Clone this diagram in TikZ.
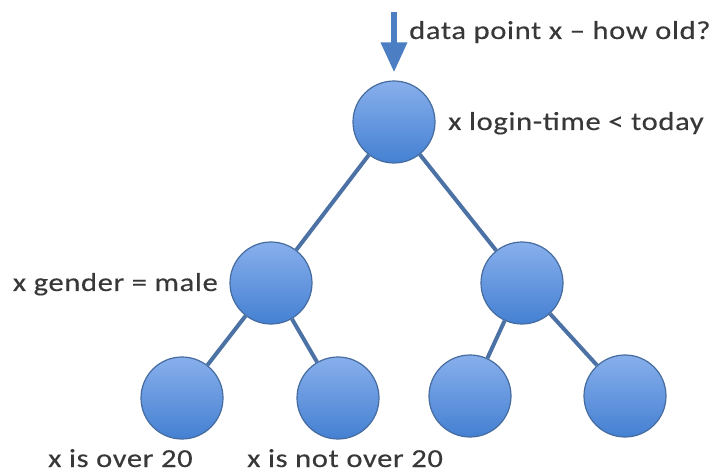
\documentclass[tikz,border=0pt]{standalone}
\usepackage{fontspec}
\setmainfont{Carlito}[FakeStretch=1.18,LetterSpace=2.5,FakeBold=0.3]
\usepackage{tikz}
\usetikzlibrary{arrows.meta}

\definecolor{balltop}{HTML}{88AFEC}
\definecolor{ballbot}{HTML}{4480D2}
\definecolor{ballrim}{HTML}{466C9F}
\definecolor{branchblue}{HTML}{4C72A5}
\definecolor{arrowblue}{HTML}{4B7EC2}
\definecolor{txtgray}{HTML}{383838}

\begin{document}
\begin{tikzpicture}[x=1bp,y=-1bp,
every node/.style={font=\fontsize{26}{30}\selectfont, text=txtgray},
ball/.style={circle, draw=ballrim, line width=1.2bp, top color=balltop, bottom color=ballbot, minimum size=82bp, inner sep=0pt},
branch/.style={draw=branchblue, line width=4bp},
lbl/.style={inner sep=0pt}]
\useasboundingbox (0,0) rectangle (716,473);

% the tree: root, two tests, four leaves
\node[ball] (root) at (394,122) {};
\node[ball] (ml) at (271,283) {};
\node[ball] (mr) at (522,283) {};
\node[ball] (l1) at (182,398) {};
\node[ball] (l2) at (338,398) {};
\node[ball] (l3) at (470,396) {};
\node[ball] (l4) at (625,396) {};

\draw[branch] (root) -- (ml);
\draw[branch] (root) -- (mr);
\draw[branch] (ml) -- (l1);
\draw[branch] (ml) -- (l2);
\draw[branch] (mr) -- (l3);
\draw[branch] (mr) -- (l4);

% incoming sample
\coordinate (src) at (394,12);
\draw[-{Triangle[width=25bp,length=30bp]}, line width=6.5bp, draw=arrowblue, shorten >=8bp] (src) -- (root);

% texts
\node[lbl, anchor=base west] (q) at (409,39) {data point x -- how old?};
\node[lbl, anchor=base west] (t1) at (448,130) {x login-time < today};
\node[lbl, anchor=base east] (t2) at (218,291) {x gender = male};
\node[lbl, anchor=base west] (o1) at (48,467) {x is over 20};
\node[lbl, anchor=base west] (o2) at (247,467) {x is not over 20};
\end{tikzpicture}
\end{document}
